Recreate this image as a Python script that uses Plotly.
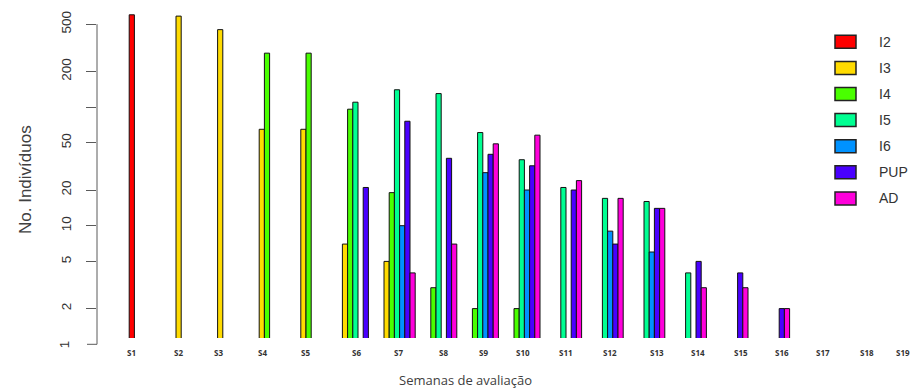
import math
import plotly.graph_objects as go

# ---- data ----
weeks = ["S1", "S2", "S3", "S4", "S5", "S6", "S7", "S8", "S9", "S10",
         "S11", "S12", "S13", "S14", "S15", "S16", "S17", "S18", "S19"]
series_names = ["I2", "I3", "I4", "I5", "I6", "PUP", "AD"]
N = None
I2 = [600, N, N, N, N, N, N, N, N, N, N, N, N, N, N, N, N, N, N]
I3 = [N, 585, 450, 65, 65, 7, 5, N, N, N, N, N, N, N, N, N, N, N, N]
I4 = [N, N, N, 285, 285, 96, 19, 3, 2, 2, N, N, N, N, N, N, N, N, N]
I5 = [N, N, N, N, N, 110, 140, 130, 61, 36, 21, 17, 16, 4, N, N, N, N, N]
I6 = [N, N, N, N, N, N, 10, N, 28, 20, N, 9, 6, N, N, N, N, N, N]
PUP = [N, N, N, N, N, 21, 76, 37, 40, 32, 20, 7, 14, 5, 4, 2, N, N, N]
AD = [N, N, N, N, N, N, 4, 7, 49, 58, 24, 17, 14, 3, 3, 2, N, N, N]
series_values = [I2, I3, I4, I5, I6, PUP, AD]
colors = ["#FF0000", "#FFDB00", "#49FF00", "#00FF92", "#0092FF", "#4900FF", "#FF00DB"]
ytick_vals = [2, 5, 10, 20, 50, 100, 200, 500]
ytick_text = ["2", "5", "10", "20", "50", "", "200", "500"]
# small horizontal offsets (px) of week labels as placed in the original
label_shift = [-16, -11, -12, -10, -8, 1, 1, 5, 3, 1, 3, 5, 10, 10, 11, 11, 10, 12, 7]

# ---- layout geometry ----
W, H = 910, 390
ML, MR, MT, MB = 97, 0, 5, 52
pw = W - ML - MR
ph = H - MT - MB
px_per_decade = 118.6
y_bottom_log = (344.3 - (H - MB)) / px_per_decade
y_top_log = y_bottom_log + ph / px_per_decade
group_px = 41.6
first_center_px = 147.4
x_lo = (ML - first_center_px) / group_px
x_hi = (W - MR - first_center_px) / group_px

def py(v):
    return (math.log10(v) - y_bottom_log) / (y_top_log - y_bottom_log)

axis_col = "#5a5a5a"
txt_col = "#333333"
tick_font = dict(family="Liberation Sans, Arial", size=13.5, color=txt_col)

fig = go.Figure()
for name, vals, col in zip(series_names, series_values, colors):
    fig.add_trace(go.Bar(
        x=list(range(len(weeks))), y=vals, name=name,
        marker=dict(color=col, line=dict(color="#111111", width=1)),
        showlegend=False,
    ))

shapes = []
annotations = []
# y axis line from 1 to 500 and tick at 1
shapes.append(dict(type="line", xref="paper", yref="paper", x0=0, x1=0,
                   y0=py(1), y1=py(500), line=dict(color=axis_col, width=1)))
shapes.append(dict(type="line", xref="paper", yref="paper", x0=-10 / pw, x1=0,
                   y0=py(1), y1=py(1), line=dict(color=axis_col, width=1)))
annotations.append(dict(text="1", xref="paper", yref="paper", x=(64 - ML) / pw, y=py(1),
                        showarrow=False, textangle=-90, xanchor="center", yanchor="middle",
                        font=tick_font))

# week labels
for i, (w, s) in enumerate(zip(weeks, label_shift)):
    annotations.append(dict(text="<b>%s</b>" % w, x=i, xref="x", y=0, yref="paper",
                            yshift=-14, xshift=s, showarrow=False,
                            xanchor="center", yanchor="middle",
                            font=dict(family="Open Sans, Liberation Sans", size=8, color=txt_col)))

# axis titles
annotations.append(dict(text="Semanas de avaliação", xref="paper", yref="paper",
                        x=(465 - ML) / pw, y=(H - MB - 380) / ph, showarrow=False,
                        xanchor="center", yanchor="middle",
                        font=dict(family="Open Sans, Liberation Sans", size=13, color="#404040")))
annotations.append(dict(text="No. Indivíduos", xref="paper", yref="paper",
                        x=(25 - ML) / pw, y=(H - MB - 180) / ph, showarrow=False,
                        textangle=-90, xanchor="center", yanchor="middle",
                        font=dict(family="Liberation Sans, Arial", size=17, color="#404040")))

# legend (drawn by hand to match the R-style boxes)
for k, (name, col) in enumerate(zip(series_names, colors)):
    cy = 41.8 + k * 26.1
    shapes.append(dict(type="rect", xref="paper", yref="paper",
                       x0=(835 - ML) / pw, x1=(856 - ML) / pw,
                       y0=(H - MB - (cy + 6.5)) / ph, y1=(H - MB - (cy - 6.5)) / ph,
                       fillcolor=col, line=dict(color="#222222", width=1.5)))
    annotations.append(dict(text=name, xref="paper", yref="paper",
                            x=(877 - ML) / pw, y=(H - MB - cy) / ph, showarrow=False,
                            xanchor="left", yanchor="middle",
                            font=dict(family="Liberation Sans, Arial", size=14, color=txt_col)))

fig.update_layout(
    template="none",
    width=W, height=H,
    margin=dict(l=ML, r=MR, t=MT, b=MB, autoexpand=False),
    paper_bgcolor="white", plot_bgcolor="white",
    barmode="group", bargap=0.125, bargroupgap=0,
    showlegend=False,
    shapes=shapes, annotations=annotations,
    xaxis=dict(range=[x_lo, x_hi], showgrid=False, zeroline=False, showline=False,
               showticklabels=False, ticks="", automargin=False),
    yaxis=dict(type="log", range=[y_bottom_log, y_top_log], showgrid=False, zeroline=False,
               showline=False, tickvals=ytick_vals, ticktext=ytick_text, automargin=False,
               ticks="outside", ticklen=10, tickcolor=axis_col, tickwidth=1,
               tickangle=-90, ticklabelstandoff=10,
               tickfont=tick_font),
)

fig.write_html("out.html", config={"displayModeBar": False},
               post_script="document.body.style.margin='0';document.body.style.overflow='hidden';")
